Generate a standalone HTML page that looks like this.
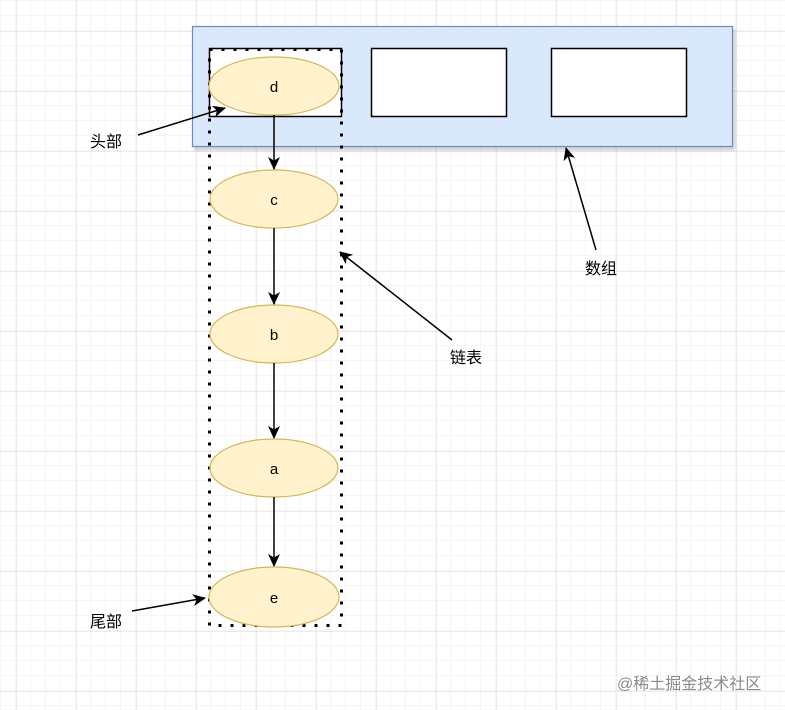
<!DOCTYPE html>
<html><head><meta charset="utf-8"><style>
html,body{margin:0;padding:0;background:#fff;}
svg{display:block;}
text{font-family:"Liberation Sans","Noto Sans CJK SC",sans-serif;}
</style></head><body>
<svg width="785" height="710" viewBox="0 0 785 710" xmlns="http://www.w3.org/2000/svg">
<defs>
<pattern id="minor" width="15" height="15" patternUnits="userSpaceOnUse" x="1" y="1">
<path d="M15 0V15M0 15H15" fill="none" stroke="#ececec" stroke-width="1"/>
</pattern>
<pattern id="major" width="60" height="60" patternUnits="userSpaceOnUse" x="16.5" y="31.5">
<path d="M0 0V60M0 0H60" fill="none" stroke="#d8d8d8" stroke-width="1"/>
</pattern>
<marker id="ar" markerWidth="14" markerHeight="14" refX="12" refY="6" orient="auto" markerUnits="userSpaceOnUse">
<path d="M0 0L13 6L0 12L3.5 6Z" fill="#000"/>
</marker>
<filter id="sh" x="-5%" y="-5%" width="110%" height="120%"><feDropShadow dx="2" dy="3" stdDeviation="1.5" flood-color="#000" flood-opacity="0.2"/></filter>
</defs>
<rect width="785" height="710" fill="url(#minor)"/>
<rect width="785" height="710" fill="url(#major)"/>

<rect x="192.5" y="26.5" width="540" height="120" fill="#dae8fc" stroke="#6c8ebf" stroke-width="1.2" filter="url(#sh)"/>
<rect x="209.5" y="48.5" width="132" height="68" fill="#fff" stroke="#000" stroke-width="1.5"/>
<rect x="371.5" y="48.5" width="135" height="68" fill="#fff" stroke="#000" stroke-width="1.5"/>
<rect x="551.5" y="48.5" width="135" height="68" fill="#fff" stroke="#000" stroke-width="1.5"/>

<rect x="209.5" y="49.5" width="132" height="576" fill="none" stroke="#000" stroke-width="3" stroke-dasharray="3 9"/>

<g fill="#fff2cc" stroke="#d6b656" stroke-width="1.2">
<ellipse cx="274" cy="86" rx="65" ry="29"/>
<ellipse cx="274" cy="199" rx="64" ry="29"/>
<ellipse cx="274" cy="334" rx="64" ry="29"/>
<ellipse cx="274" cy="468" rx="64" ry="29"/>
<ellipse cx="274" cy="597" rx="65" ry="30"/>
</g>
<g font-size="15" text-anchor="middle" fill="#000">
<text x="274" y="92">d</text>
<text x="274" y="205">c</text>
<text x="274" y="340">b</text>
<text x="274" y="474">a</text>
<text x="274" y="603">e</text>
</g>
<g stroke="#000" stroke-width="1.5" fill="none" marker-end="url(#ar)">
<path d="M274 115V169"/>
<path d="M274 228V304"/>
<path d="M274 363V438"/>
<path d="M274 497V566"/>
<path d="M138 135L225 108"/>
<path d="M596 250L566 148"/>
<path d="M452 340L340 252"/>
<path d="M132 611L205 598"/>
</g>
<g font-size="16" fill="#000">
<text x="90" y="147">头部</text>
<text x="585" y="274">数组</text>
<text x="450" y="363">链表</text>
<text x="90" y="627">尾部</text>
</g>
<text x="617" y="689" font-size="16" fill="#8a8a8a">@稀土掘金技术社区</text>
</svg>
</body></html>
